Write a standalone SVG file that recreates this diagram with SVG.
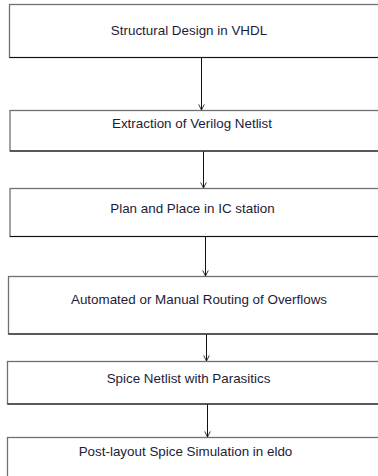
<svg xmlns="http://www.w3.org/2000/svg" width="378" height="476" viewBox="0 0 378 476">
<defs>
<style>
.box{fill:#fff;stroke:#707070;stroke-width:1.3}
.bot{stroke:#111;stroke-width:1.2}
.t{font-family:"Liberation Sans",Arial,sans-serif;font-size:13.4px;fill:#1c1c38;text-anchor:middle}
.c{stroke:#111;stroke-width:1;fill:none}
</style>
<marker id="ah" viewBox="0 0 10 10" refX="9" refY="5" markerWidth="7" markerHeight="7" orient="auto" markerUnits="userSpaceOnUse">
<path d="M1,1 L9,5 L1,9" fill="none" stroke="#111" stroke-width="1.2"/>
</marker>
</defs>
<rect width="378" height="476" fill="#fff"/>
<g id="n1"><rect class="box" x="9.5" y="4.5" width="380" height="53"/><line class="bot" x1="9.5" y1="57.5" x2="380" y2="57.5"/><text class="t" x="189" y="35">Structural Design in VHDL</text></g>
<g id="n2"><rect class="box" x="10" y="110.5" width="380" height="40.5"/><line class="bot" x1="10" y1="151" x2="380" y2="151"/><text class="t" x="192" y="128">Extraction of Verilog Netlist</text></g>
<g id="n3"><rect class="box" x="10" y="188.5" width="380" height="48"/><line class="bot" x1="10" y1="236.5" x2="380" y2="236.5"/><text class="t" x="192.5" y="213">Plan and Place in IC station</text></g>
<g id="n4"><rect class="box" x="8.5" y="276.5" width="380" height="57.5"/><line class="bot" x1="8.5" y1="334" x2="380" y2="334"/><text class="t" x="199" y="304">Automated or Manual Routing of Overflows</text></g>
<g id="n5"><rect class="box" x="7.5" y="361.5" width="380" height="42.5"/><line class="bot" x1="7.5" y1="404" x2="380" y2="404"/><text class="t" x="188.5" y="383">Spice Netlist with Parasitics</text></g>
<g id="n6"><rect class="box" x="7.5" y="437.5" width="380" height="50"/><text class="t" x="185.5" y="456">Post-layout Spice Simulation in eldo</text></g>
<g id="connectors">
<line class="c" x1="201.5" y1="58" x2="201.5" y2="110" marker-end="url(#ah)"/>
<line class="c" x1="203.5" y1="151.5" x2="203.5" y2="188" marker-end="url(#ah)"/>
<line class="c" x1="205.5" y1="237" x2="205.5" y2="276" marker-end="url(#ah)"/>
<line class="c" x1="206.5" y1="334.5" x2="206.5" y2="361" marker-end="url(#ah)"/>
<line class="c" x1="207.5" y1="404.5" x2="207.5" y2="437" marker-end="url(#ah)"/>
</g>
</svg>
